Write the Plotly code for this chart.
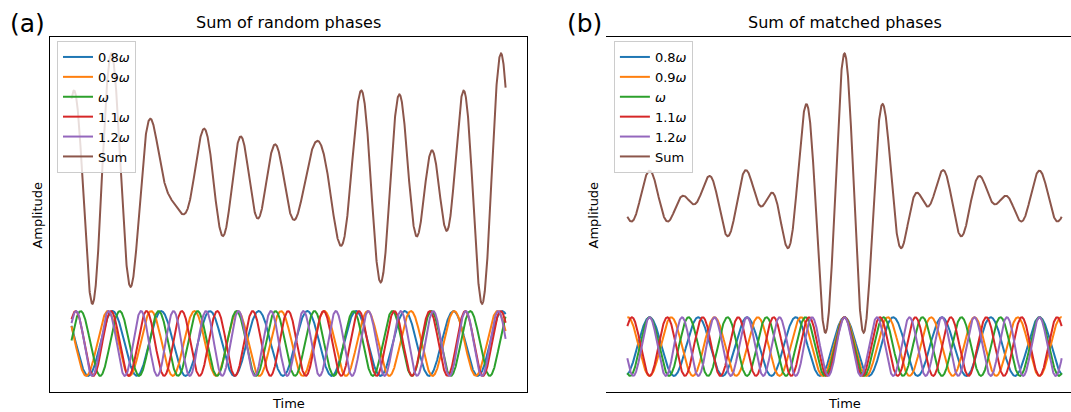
import numpy as np
import plotly.graph_objects as go

# ---------------- data ----------------
freq_labels = ["0.8<i>ω</i>", "0.9<i>ω</i>", "<i>ω</i>", "1.1<i>ω</i>", "1.2<i>ω</i>"]
freq_multipliers = [0.8, 0.9, 1.0, 1.1, 1.2]
# phases (rad) (a) and panel (b)
phases_random = [3.857, 1.093, 2.106, 0.076, 3.410]
phases_matched = [0.0, 0.0, 0.0, 0.0, 0.0]
time_start, time_end = -35.0, 35.0
sum_offset = 5.0
panel_titles = ["Sum of random phases", "Sum of matched phases"]
panel_tags = ["(a)", "(b)"]

# ---------------- figure ----------------
W, H = 1071, 412
colors = ["#1f77b4", "#ff7f0e", "#2ca02c", "#d62728", "#9467bd", "#8c564b"]
t = np.linspace(time_start, time_end, 3000)

fig = go.Figure()

def add_panel(phases, xa, ya, legend_name):
    comps = []
    for k in range(5):
        y = np.cos(freq_multipliers[k]*t + phases[k])
        comps.append(y)
        fig.add_trace(go.Scatter(x=t, y=y, mode="lines", name=freq_labels[k],
                                 line=dict(color=colors[k], width=2),
                                 xaxis=xa, yaxis=ya, legend=legend_name))
    total = np.sum(comps, axis=0) + sum_offset
    fig.add_trace(go.Scatter(x=t, y=total, mode="lines", name="Sum",
                             line=dict(color=colors[5], width=2),
                             xaxis=xa, yaxis=ya, legend=legend_name))
    lo = min(-1.0, total.min()); hi = max(1.0, total.max())
    pad = 0.05*(hi - lo)
    return [lo - pad, hi + pad]

yr_a = add_panel(phases_random, "x", "y", "legend")
yr_b = add_panel(phases_matched, "x2", "y2", "legend2")

span = time_end - time_start
xr = [time_start - 0.05*span, time_end + 0.05*span]
ax_a = (49.8, 527.3)
ax_b = (605.6, 1083.4)
top_px, bot_px = 37.3, 392.0
xr_b_end = xr[0] + (xr[1]-xr[0])*(W - ax_b[0])/(ax_b[1]-ax_b[0])

common = dict(showgrid=False, zeroline=False, showticklabels=False, ticks="",
              showline=True, linecolor="black", linewidth=1)
ydom = [1 - bot_px/H, 1 - top_px/H]
legend_style = dict(xanchor="left", yanchor="top",
                    bgcolor="rgba(255,255,255,0.8)", bordercolor="#cccccc", borderwidth=1,
                    font=dict(size=13, family="DejaVu Sans", color="black"), tracegroupgap=0)
fig.update_layout(
    width=W, height=H, margin=dict(l=0, r=0, t=0, b=0),
    paper_bgcolor="white", plot_bgcolor="white",
    font=dict(family="DejaVu Sans", color="black", size=13),
    xaxis=dict(domain=[ax_a[0]/W, ax_a[1]/W], range=xr, mirror=True, **common),
    yaxis=dict(domain=ydom, range=yr_a, mirror=True, **common),
    xaxis2=dict(domain=[ax_b[0]/W, 1.0], range=[xr[0], xr_b_end], mirror=True, **common),
    yaxis2=dict(domain=ydom, range=yr_b, mirror=False, **common),
    legend=dict(x=57/W, y=1-41/H, **legend_style),
    legend2=dict(x=613.9/W, y=1-41/H, **legend_style),
    showlegend=True,
)

def ann(text, xpx, ypx, size, angle=0, xanchor="center"):
    fig.add_annotation(text=text, x=xpx/W, y=1-ypx/H, xref="paper", yref="paper",
                       showarrow=False, font=dict(size=size, family="DejaVu Sans", color="black"),
                       textangle=angle, xanchor=xanchor, yanchor="middle")

ann(panel_tags[0], 8, 24, 25, xanchor="left")
ann(panel_tags[1], 565.4, 24, 25, xanchor="left")
ann(panel_titles[0], 288.5, 22.7, 16)
ann(panel_titles[1], 844.5, 22.7, 16)
ann("Time", 288.5, 403, 13)
ann("Time", 844.5, 403, 13)
ann("Amplitude", 36.6, 215, 13, angle=-90)
ann("Amplitude", 592.5, 215, 13, angle=-90)

fig.write_html("out.html")
